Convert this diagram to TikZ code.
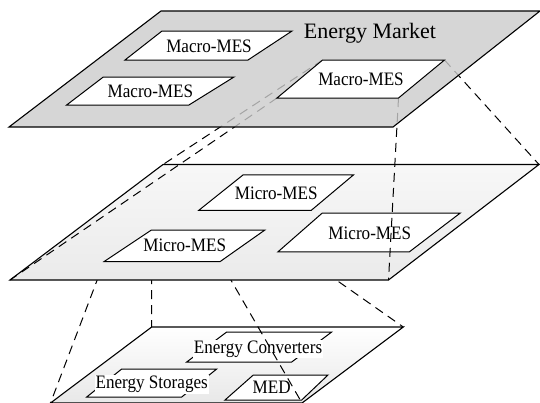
\documentclass[tikz,border=0pt]{standalone}
\usepackage{fontspec}
\setmainfont{Liberation Serif}
\newfontfamily\boxfont{Liberation Serif}[FakeStretch=0.9]

\begin{document}
\begin{tikzpicture}[x=1pt,y=-1pt,
  plane/.style={draw=black,line width=1.1pt,line join=miter},
  box/.style={draw=black,fill=white,line width=1pt},
  lbl/.style={fill=white,inner sep=1pt,font=\boxfont\fontsize{19}{19}\selectfont},
  proj/.style={line width=1pt,dash pattern=on 9pt off 6pt}]
\useasboundingbox (0,0) rectangle (540,402);
%================================================================
%	Corners
\coordinate (t1) at (161,11);
\coordinate (t2) at (540,11);
\coordinate (t3) at (393,127);
\coordinate (t4) at (9,127);
%----------------------------------------------------------------
\coordinate (m1) at (163,164.5);
\coordinate (m2) at (539,164.5);
\coordinate (m3) at (388.5,280);
\coordinate (m4) at (10,280);
%----------------------------------------------------------------
\coordinate (b1) at (151.7,327);
\coordinate (b2) at (403.3,327);
\coordinate (b3) at (302,403);
\coordinate (b4) at (50.5,403);
%----------------------------------------------------------------
\coordinate (a1) at (322.6,60);
\coordinate (a2) at (444.5,60);
\coordinate (a3) at (398.5,98);
\coordinate (a4) at (277,98);
%----------------------------------------------------------------
\coordinate (c1) at (151.4,230);
\coordinate (c2) at (264.9,230);
\coordinate (c3) at (220.2,261.5);
\coordinate (c4) at (104.2,261.5);

%================================================================
%	Bottom layer
\shade[top color=white,bottom color=gray!18] (b1) -- (b2) -- (b3) -- (b4) -- cycle;
\draw[plane] (b1) -- (b2) -- (b3) -- (b4) -- cycle;
\draw[box] (226.7,332) -- (331.7,332) -- (291.7,362) -- (186.7,362) -- cycle;
\draw[box] (121.7,369) -- (216.7,369) -- (181.7,397) -- (86.7,397) -- cycle;
\draw[box] (253.3,375) -- (328,375) -- (301.7,400) -- (225,400) -- cycle;
\node[lbl] (conv) at (258,349) {Energy Converters};
\node[lbl] (stor) at (151.7,384.3) {Energy Storages};
\node[lbl] (med) at (271.7,387.3) {MED};
%----------------------------------------------------------------
\draw[proj] (c1) -- (b1);
\draw[proj] (c2) -- (b2);
\draw[proj] (c3) -- (b3);
\draw[proj] (c4) -- (b4);

%================================================================
%	Middle layer
\shade[top color=gray!6,bottom color=gray!16] (m1) -- (m2) -- (m3) -- (m4) -- cycle;
\draw[plane] (m1) -- (m2) -- (m3) -- (m4) -- cycle;
\draw[box] (243.2,174.8) -- (353.6,174.8) -- (311.3,210.3) -- (198.8,210.3) -- cycle;
\draw[box] (c1) -- (c2) -- (c3) -- (c4) -- cycle;
\draw[box] (322.3,213) -- (460.3,213) -- (409.4,251.8) -- (278,251.8) -- cycle;
\node[lbl] (mic1) at (276.2,193) {Micro-MES};
\node[lbl] (mic2) at (184.7,245.5) {Micro-MES};
\node[lbl] (mic3) at (369.8,232.9) {Micro-MES};
%----------------------------------------------------------------
\draw[proj] (a1) -- (m1);
\draw[proj] (a2) -- (m2);
\draw[proj] (a3) -- (m3);
\draw[proj] (a4) -- (m4);

%================================================================
%	Top layer
\fill[gray!40,fill opacity=0.8] (t1) -- (t2) -- (t3) -- (t4) -- cycle;
\draw[plane] (t1) -- (t2) -- (t3) -- (t4) -- cycle;
\draw[box] (162,31) -- (292,31) -- (248,60) -- (125,60) -- cycle;
\draw[box] (103.3,77) -- (234,77) -- (188.6,105.2) -- (66.4,105.2) -- cycle;
\draw[box] (a1) -- (a2) -- (a3) -- (a4) -- cycle;
\node[lbl] (mac1) at (209,46) {Macro-MES};
\node[lbl] (mac2) at (150.4,91) {Macro-MES};
\node[lbl] (mac3) at (361,79.5) {Macro-MES};
\node[font=\fontsize{22}{22}\selectfont] (mkt) at (370,33) {Energy Market};
%================================================================
\end{tikzpicture}
\end{document}
